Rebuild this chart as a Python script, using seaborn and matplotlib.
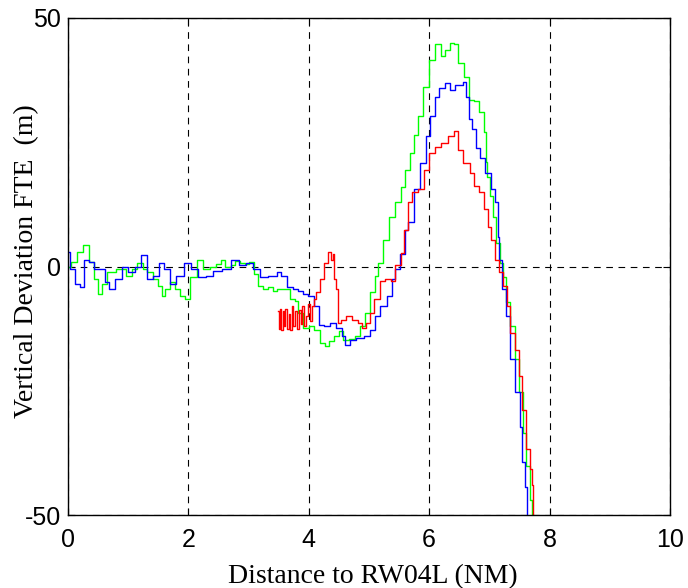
import matplotlib
matplotlib.use("Agg")
import matplotlib.pyplot as plt
import pandas as pd
import seaborn as sns

# ------------------------------------------------------------------ #
# values (distance in NM, deviation in m)

green_x = [0.0, 0.1, 0.2, 0.3, 0.4, 0.48, 0.53, 0.6, 0.68, 0.75, 0.85, 0.91,
           1.03, 1.1, 1.2, 1.28, 1.36, 1.45, 1.53, 1.58, 1.66, 1.74, 1.82,
           1.91, 1.99, 2.08, 2.19, 2.3, 2.41, 2.5, 2.57, 2.66, 2.74, 2.82,
           2.9, 2.98, 3.05, 3.12, 3.19, 3.28, 3.36, 3.44, 3.52, 3.64, 3.74,
           3.8, 3.85, 3.97, 4.05, 4.14, 4.24, 4.3, 4.38, 4.47, 4.52, 4.63,
           4.72, 4.8, 4.9, 4.97, 5.07, 5.13, 5.18, 5.27, 5.4, 5.48, 5.57,
           5.64, 5.71, 5.78, 5.85, 5.96, 6.05, 6.15, 6.23, 6.3, 6.38, 6.46,
           6.51, 6.55, 6.6, 6.71, 6.79, 6.88, 6.93, 6.95, 6.98, 7.04, 7.09,
           7.14, 7.21, 7.23, 7.31, 7.38, 7.46, 7.54, 7.59, 7.64, 7.71, 7.72]
green_y = [0, 1, 3, 4.4, 1, -2.6, -5.6, -3.5, -1.2, -1.2, -0.6, -0.6,
           -2, -0.5, 0.8, -0.5, -1.2, -2.5, -4, -6, -4.5, -3.2, -4.5,
           -6, -6.6, -2.2, 1.4, -0.6, 0, 0.5, 1.4, 0, 0.4, 1.2,
           0.8, 0.5, 1.0, -1.5, -4, -4.5, -4.2, -5, -4.6, -4.6, -6.6,
           -7, -9.3, -12.3, -12, -12.7, -15.3, -16, -15, -14, -13, -14.7,
           -14.5, -14, -12, -9.3, -5.2, -2, 0.8, 5.4, 10, 13, 16,
           19.5, 22.9, 26.5, 30.2, 36.2, 41.6, 44.7, 42.3, 43.5, 45, 44.7,
           41, 41, 38.2, 33.6, 33.2, 31, 27, 21, 18.1, 14.1, 10,
           4.8, 0.8, -2.2, -7.2, -12, -18.7, -25.3, -33.4, -40.2, -46.9, -50]

blue_x = [0.0, 0.08, 0.17, 0.23, 0.31, 0.4, 0.48, 0.58, 0.64, 0.73, 0.83,
          0.95, 1.06, 1.16, 1.25, 1.36, 1.47, 1.56, 1.64, 1.74, 1.86, 2.0,
          2.08, 2.23, 2.36, 2.47, 2.64, 2.77, 2.91, 3.02, 3.14, 3.24, 3.41,
          3.52, 3.57, 3.69, 3.8, 3.85, 3.95, 4.02, 4.14, 4.19, 4.3, 4.4,
          4.52, 4.58, 4.63, 4.73, 4.85, 4.97, 5.07, 5.13, 5.24, 5.35, 5.4,
          5.46, 5.57, 5.63, 5.68, 5.8, 5.9, 5.98, 6.05, 6.13, 6.21, 6.3,
          6.4, 6.46, 6.51, 6.6, 6.64, 6.68, 6.73, 6.81, 6.89, 6.98, 7.06,
          7.13, 7.14, 7.18, 7.23, 7.31, 7.39, 7.47, 7.54, 7.56, 7.62, 7.63]
blue_y = [3, -0.6, -3.6, -4.2, 1.4, 1, -0.6, -0.6, -3.2, -4.6, -2.6,
          0, -1.2, 0, 2.4, -2.6, -2, 0.8, -0.6, -3.6, -2, 0.8,
          -0.6, -2.2, -2, -1, -0.6, 1.4, 0.4, 0.8, -0.6, -2.2, -2,
          -1.2, -2, -4.2, -4.6, -5, -5.5, -6, -8, -11.7, -12, -11.3,
          -12.3, -14, -15.7, -14.7, -14.3, -14, -12.7, -10, -8, -6, -2.6,
          -0.6, 2.5, 7.4, 8.9, 15.5, 20.9, 26.2, 30.2, 34.2, 36, 37,
          35.6, 36.6, 36.6, 37.2, 34.2, 29.6, 27.6, 23.9, 21.9, 18.9, 15.5,
          12.9, 6, 1.4, -4.6, -10, -18.7, -25.3, -32.2, -39.4, -44.3, -50]

red_x = [3.49, 3.51, 3.53, 3.55, 3.58, 3.6, 3.62, 3.65, 3.68, 3.7, 3.73,
         3.76, 3.79, 3.82, 3.85, 3.88, 3.91, 3.94, 3.97, 4.0, 4.04, 4.07,
         4.1, 4.15, 4.22, 4.3, 4.35, 4.38, 4.41, 4.44, 4.47, 4.49, 4.57,
         4.68, 4.77, 4.85, 4.93, 4.98, 5.05, 5.13, 5.22, 5.32, 5.4, 5.48,
         5.57, 5.6, 5.68, 5.76, 5.88, 5.96, 6.05, 6.13, 6.26, 6.38, 6.46,
         6.51, 6.63, 6.71, 6.79, 6.88, 6.93, 7.01, 7.06, 7.13, 7.18, 7.26,
         7.31, 7.39, 7.46, 7.51, 7.59, 7.64, 7.71, 7.72, 7.73]
red_y = [-9, -12.5, -8.5, -12.7, -9, -12, -8.5, -12.5, -9.5, -12.7, -8,
         -12, -9, -12.5, -8.7, -11.5, -8, -12, -10, -7.5, -11, -8,
         -6.5, -5.2, -2.6, 0.8, 3, 1.4, 2.5, -2.6, -4.6, -11.3, -10.7,
         -10, -10.7, -11.3, -12.3, -11.3, -9.3, -6.6, -3, -2.6, -3, 0.4,
         2.8, 7.4, 12.9, 14.9, 15.5, 19.5, 22.9, 24.1, 24.9, 26.2, 27.2,
         23.5, 20.9, 18.9, 16.1, 14.9, 11.5, 8, 5.4, 1.4, -1.2, -4,
         -8, -13.3, -16.7, -22.1, -28.8, -36.8, -40.8, -43.9, -50]

x_ticks = [0, 2, 4, 6, 8, 10]
y_ticks = [-50, 0, 50]

# ------------------------------------------------------------------ #

fig = plt.figure(figsize=(6.88, 5.88), dpi=100)
ax = fig.add_axes([0.0988, 0.1241, 0.875, 0.8453])

for xs, ys, col in [(green_x, green_y, "#00ff00"),
                    (blue_x, blue_y, "#0000ff"),
                    (red_x, red_y, "#ff0000")]:
    d = pd.DataFrame({"dist": xs, "dev": ys})
    sns.lineplot(data=d, x="dist", y="dev", ax=ax, color=col, lw=1.0,
                 sort=False, estimator=None, drawstyle="steps-mid")

ax.set_xlim(0, 10)
ax.set_ylim(-50, 50)
ax.set_xticks(x_ticks)
ax.set_yticks(y_ticks)
ax.set_xticklabels([str(t) for t in x_ticks], family="Liberation Sans", fontsize=18)
ax.set_yticklabels([str(t) for t in y_ticks], family="Liberation Sans", fontsize=18)
ax.tick_params(direction="in", length=5, width=0.8, top=True, right=True)
ax.tick_params(axis="x", pad=9)
ax.tick_params(axis="y", pad=5)

ax.grid(True, color="black", linestyle=(0, (6, 5)), linewidth=0.8)
for s in ax.spines.values():
    s.set_linewidth(1.0)

ax.set_xlabel("Distance to RW04L (NM)", family="Liberation Serif", fontsize=20, va="center")
ax.set_ylabel("Vertical Deviation FTE  (m)", family="Liberation Serif", fontsize=20, va="center")
ax.xaxis.set_label_coords(0.507, -0.124)
ax.yaxis.set_label_coords(-0.068, 0.51)

fig.savefig("out.png", dpi=100)
